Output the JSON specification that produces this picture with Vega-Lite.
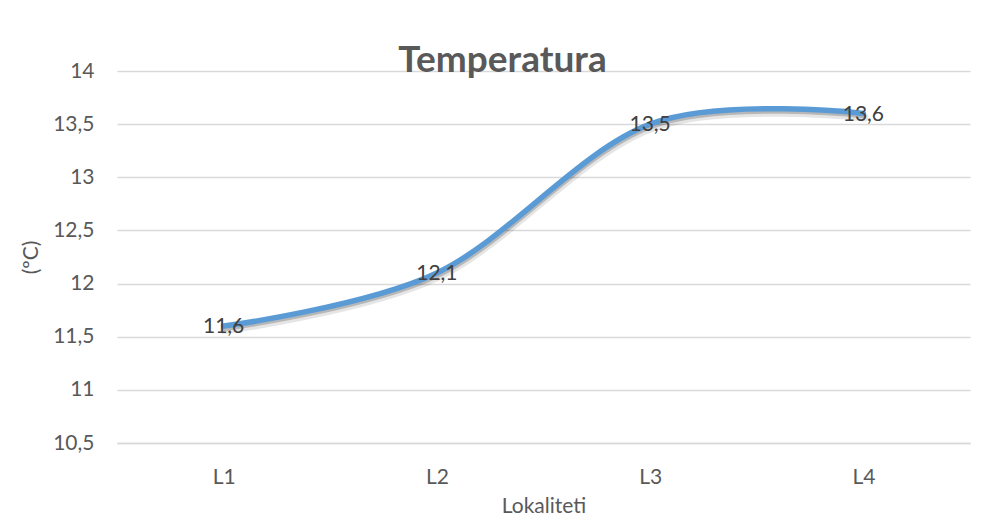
{
  "$schema": "https://vega.github.io/schema/vega-lite/v6.json",
  "width": 853,
  "height": 372,
  "autosize": {"type": "none"},
  "padding": {"left": 117, "top": 71, "right": 21, "bottom": 72},
  "background": "white",
  "title": {
    "text": "Temperatura",
    "font": "Lato",
    "fontSize": 37,
    "fontWeight": "bold",
    "color": "#595959",
    "anchor": "middle",
    "frame": "group",
    "baseline": "alphabetic",
    "offset": 0,
    "dx": -41,
    "dy": 49
  },
  "data": {
    "values": [
      {"lokalitet": "L1", "temp": 11.6},
      {"lokalitet": "L2", "temp": 12.1},
      {"lokalitet": "L3", "temp": 13.5},
      {"lokalitet": "L4", "temp": 13.6}
    ]
  },
  "encoding": {
    "x": {
      "field": "lokalitet",
      "type": "ordinal",
      "sort": null,
      "scale": {"type": "point", "padding": 0.5},
      "axis": {
        "title": "Lokaliteti",
        "labelAngle": 0,
        "ticks": false,
        "tickSize": 0,
        "domain": true,
        "domainColor": "#d9d9d9",
        "domainWidth": 1.3,
        "grid": false,
        "labelPadding": 23,
        "titlePadding": 8
      }
    },
    "y": {
      "field": "temp",
      "type": "quantitative",
      "scale": {"domain": [10.5, 14], "nice": false, "zero": false},
      "axis": {
        "title": "(ºC)",
        "values": [10.5, 11, 11.5, 12, 12.5, 13, 13.5, 14],
        "format": ".1~f",
        "ticks": false,
        "tickSize": 0,
        "domain": false,
        "grid": true,
        "gridColor": "#d9d9d9",
        "gridWidth": 1.3,
        "labelPadding": 23,
        "titlePadding": 11
      }
    }
  },
  "layer": [
    {
      "mark": {
        "type": "line",
        "interpolate": "cardinal",
        "stroke": "#000000",
        "strokeWidth": 8,
        "opacity": 0.1,
        "yOffset": 4,
        "xOffset": 1,
        "strokeCap": "round"
      }
    },
    {
      "mark": {
        "type": "line",
        "interpolate": "cardinal",
        "stroke": "#000000",
        "strokeWidth": 4,
        "opacity": 0.2,
        "yOffset": 3,
        "xOffset": 1,
        "strokeCap": "round"
      }
    },
    {
      "mark": {
        "type": "line",
        "interpolate": "cardinal",
        "stroke": "#5B9BD5",
        "strokeWidth": 5.5,
        "strokeCap": "round"
      }
    },
    {
      "mark": {
        "type": "text",
        "font": "Lato",
        "fontSize": 21,
        "color": "#404040",
        "baseline": "middle",
        "align": "center",
        "dy": 1
      },
      "encoding": {
        "text": {"field": "temp", "type": "quantitative", "format": ".1f"}
      }
    }
  ],
  "config": {
    "locale": {
      "number": {"decimal": ",", "thousands": ".", "grouping": [3], "currency": ["", " €"]}
    },
    "view": {"stroke": null},
    "axis": {
      "labelFont": "Lato",
      "labelFontSize": 21,
      "labelColor": "#595959",
      "titleFont": "Lato",
      "titleFontSize": 21,
      "titleFontWeight": "normal",
      "titleColor": "#595959"
    }
  }
}
